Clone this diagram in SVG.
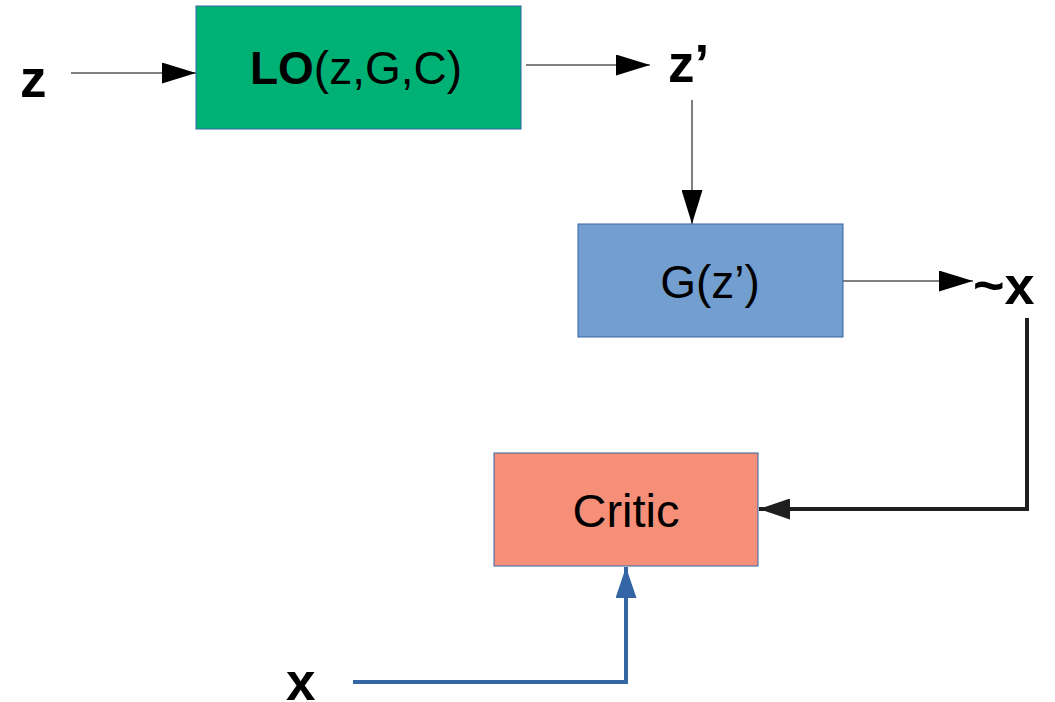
<svg xmlns="http://www.w3.org/2000/svg" width="1055" height="702" viewBox="0 0 1055 702">
  <style>
    .box { stroke: #3465a4; stroke-width: 1; }
    .lbl { font-family: "Liberation Sans", Arial, sans-serif; fill: #000; }
    .bold { font-weight: bold; }
    .thin { fill: none; stroke: #000; stroke-width: 1; }
  </style>
  <defs>
    <marker id="ahThin" viewBox="0 0 34 21" refX="34" refY="10.5" markerWidth="34" markerHeight="21" markerUnits="userSpaceOnUse" orient="auto">
      <path d="M0,0 L34,10.5 L0,21 Z" fill="#000"/>
    </marker>
    <marker id="ahDark" viewBox="0 0 31 21" refX="31" refY="10.5" markerWidth="31" markerHeight="21" markerUnits="userSpaceOnUse" orient="auto">
      <path d="M0,0 L31,10.5 L0,21 Z" fill="#1e1e1e"/>
    </marker>
    <marker id="ahBlue" viewBox="0 0 31 21" refX="31" refY="10.5" markerWidth="31" markerHeight="21" markerUnits="userSpaceOnUse" orient="auto">
      <path d="M0,0 L31,10.5 L0,21 Z" fill="#3465a4"/>
    </marker>
  </defs>
  <rect width="1055" height="702" fill="#fff"/>

  <g id="connectors">
    <line class="thin" x1="71" y1="73" x2="196" y2="73" marker-end="url(#ahThin)"/>
    <line class="thin" x1="526" y1="65" x2="650" y2="65" marker-end="url(#ahThin)"/>
    <line class="thin" x1="692" y1="100" x2="692" y2="224" marker-end="url(#ahThin)"/>
    <line class="thin" x1="843" y1="281" x2="973" y2="281" marker-end="url(#ahThin)"/>
    <path d="M1027,318 V509 H759" fill="none" stroke="#1e1e1e" stroke-width="4" marker-end="url(#ahDark)"/>
    <path d="M353,682 H626 V567" fill="none" stroke="#3465a4" stroke-width="4" marker-end="url(#ahBlue)"/>
  </g>

  <g id="label-z">
    <text class="lbl bold" x="20" y="97" font-size="53">z</text>
  </g>

  <g id="node-lo">
    <rect class="box" x="196" y="6" width="325" height="123" fill="#00b176"/>
    <text class="lbl" x="356" y="84" font-size="46" text-anchor="middle"><tspan class="bold">LO</tspan>(z,G,C)</text>
  </g>

  <g id="label-zprime">
    <text class="lbl bold" x="668" y="82" font-size="53">z’</text>
  </g>

  <g id="node-g">
    <rect class="box" x="578" y="224" width="265" height="113" fill="#729fcf"/>
    <text class="lbl" x="710" y="298" font-size="46" text-anchor="middle">G(z’)</text>
  </g>

  <g id="label-xtilde">
    <text class="lbl bold" x="973" y="304" font-size="54">~x</text>
  </g>

  <g id="node-critic">
    <rect class="box" x="494" y="453" width="264" height="113" fill="#f58f77"/>
    <text class="lbl" x="626" y="527" font-size="47" text-anchor="middle">Critic</text>
  </g>

  <g id="label-x">
    <text class="lbl bold" x="286" y="700" font-size="53">x</text>
  </g>
</svg>
